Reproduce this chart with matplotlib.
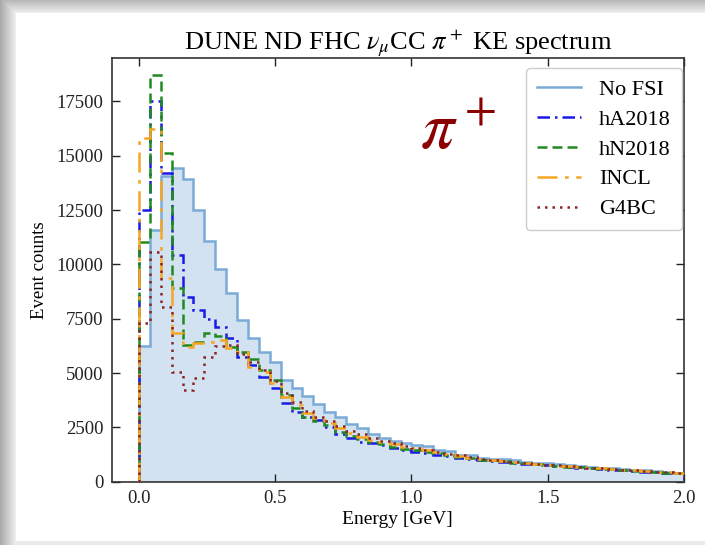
import numpy as np
import matplotlib
matplotlib.use("Agg")
import matplotlib.pyplot as plt

# 50 bins of 0.04 GeV from 0 to 2 GeV
bin_edges = np.linspace(0.0, 2.0, 51)

no_fsi = [6250, 11590, 14075, 14430, 13920, 12510, 11100, 9790, 8670, 7445,
          6600, 5985, 5525, 4680, 4300, 3945, 3580, 3225, 2965, 2650,
          2460, 2180, 1990, 1880, 1780, 1690, 1640, 1460, 1400, 1230,
          1220, 1100, 1030, 1030, 1000, 900, 860, 845, 800, 760,
          720, 690, 650, 620, 590, 550, 520, 490, 450, 400]
ha2018 = [12500, 17500, 14200, 10430, 8520, 7900, 7480, 7140, 6600, 5755,
          5370, 4800, 4300, 3640, 3225, 2990, 2840, 2530, 2180, 2000,
          1850, 1760, 1680, 1560, 1440, 1380, 1320, 1250, 1180, 1110,
          1050, 990, 960, 920, 860, 830, 800, 760, 720, 690,
          650, 620, 590, 560, 530, 500, 470, 440, 410, 380]
hn2018 = [11050, 18720, 15150, 8900, 6290, 6450, 6860, 6700, 6215, 5985,
          5650, 5140, 4680, 3990, 3380, 2990, 2800, 2600, 2300, 2100,
          1950, 1820, 1720, 1620, 1520, 1460, 1380, 1300, 1230, 1150,
          1080, 1020, 980, 940, 880, 850, 810, 770, 730, 700,
          660, 630, 600, 570, 540, 510, 480, 450, 420, 390]
incl = [15810, 16220, 9365, 6860, 6215, 6370, 6450, 6525, 6140, 5985,
        5295, 5065, 4530, 3910, 3530, 3150, 2920, 2690, 2450, 2250,
        2080, 1930, 1820, 1720, 1620, 1540, 1450, 1360, 1270, 1190,
        1110, 1050, 1000, 950, 890, 860, 820, 780, 740, 710,
        670, 640, 610, 580, 550, 520, 490, 460, 430, 400]
g4bc = [7300, 10590, 8060, 5065, 4220, 4760, 5755, 6250, 6300, 5900,
        5500, 5150, 4650, 4100, 3650, 3250, 3000, 2800, 2550, 2350,
        2180, 2020, 1880, 1760, 1660, 1560, 1470, 1380, 1290, 1210,
        1130, 1060, 1010, 960, 900, 870, 830, 790, 750, 720,
        680, 650, 620, 590, 560, 530, 500, 470, 440, 410]

plt.rcParams['font.family'] = ['Liberation Serif', 'DejaVu Serif']
plt.rcParams['mathtext.fontset'] = 'stix'

fig = plt.figure(figsize=(7.05, 5.45), dpi=100)

# screenshot-like card with a soft shadow on the left and top
bg = fig.add_axes([0, 0, 1, 1], zorder=-5)
h, w = 545, 705
yy, xx = np.mgrid[0:h, 0:w]
dx = np.clip(16 - xx, 0, None)
dy = np.clip(13 - yy, 0, None)
d = np.maximum(dx, dy)
shade = np.where(d > 0, 0.95 - 0.28 * (d / 16.0), 1.0)
shade[(yy > 540) & (xx >= 16)] = 0.92
bg.imshow(np.dstack([shade] * 3), aspect='auto', interpolation='bilinear')
bg.axis('off')

ax = fig.add_axes([0.1584, 0.1161, 0.9702 - 0.1584, 0.8936 - 0.1161])

ax.stairs(no_fsi, bin_edges, fill=True, color='#d3e2f0', zorder=1)
ax.stairs(no_fsi, bin_edges, color='#7aaad6', lw=1.8, label='No FSI', zorder=2)
ax.stairs(ha2018, bin_edges, color='#1a1ae6', lw=1.8, ls=(0, (5, 2, 1, 2)),
          label='hA2018', zorder=3)
ax.stairs(hn2018, bin_edges, color='#1f8a1f', lw=1.8, ls=(0, (4, 2)),
          label='hN2018', zorder=3)
ax.stairs(incl, bin_edges, color='#f5a623', lw=1.8, ls=(0, (8, 3, 1.5, 3)),
          label='INCL', zorder=3)
ax.stairs(g4bc, bin_edges, color='#8b2525', lw=1.8, ls=(0, (1, 2)),
          label='G4BC', zorder=3)

ax.set_xlim(-0.1, 2.0)
ax.set_ylim(0, 19500)
ax.set_xticks([0.0, 0.5, 1.0, 1.5, 2.0])
ax.set_yticks(np.arange(0, 17501, 2500))
ax.tick_params(direction='in', top=True, right=True, length=6, width=1,
               labelsize=13.5, pad=6, colors='#222222')
for s in ax.spines.values():
    s.set_linewidth(1.2)
    s.set_color('#333333')

ax.set_xlabel('Energy [GeV]', fontsize=14, labelpad=3)
ax.set_ylabel('Event counts', fontsize=13.5, labelpad=6)
ax.set_title(r'DUNE ND FHC $\nu_\mu$CC $\pi^+$ KE spectrum', fontsize=19, pad=6)

ax.text(1.17, 16050, r'$\pi^+$', color='#8b0000', fontsize=48,
        ha='center', va='center')

leg = ax.legend(loc='upper right', bbox_to_anchor=(0.9965, 0.976),
                fontsize=16, fancybox=True, framealpha=1, edgecolor='#cccccc',
                borderaxespad=0, handlelength=2.0, labelspacing=0.42,
                borderpad=0.5)

fig.savefig('out.png', dpi=100)
